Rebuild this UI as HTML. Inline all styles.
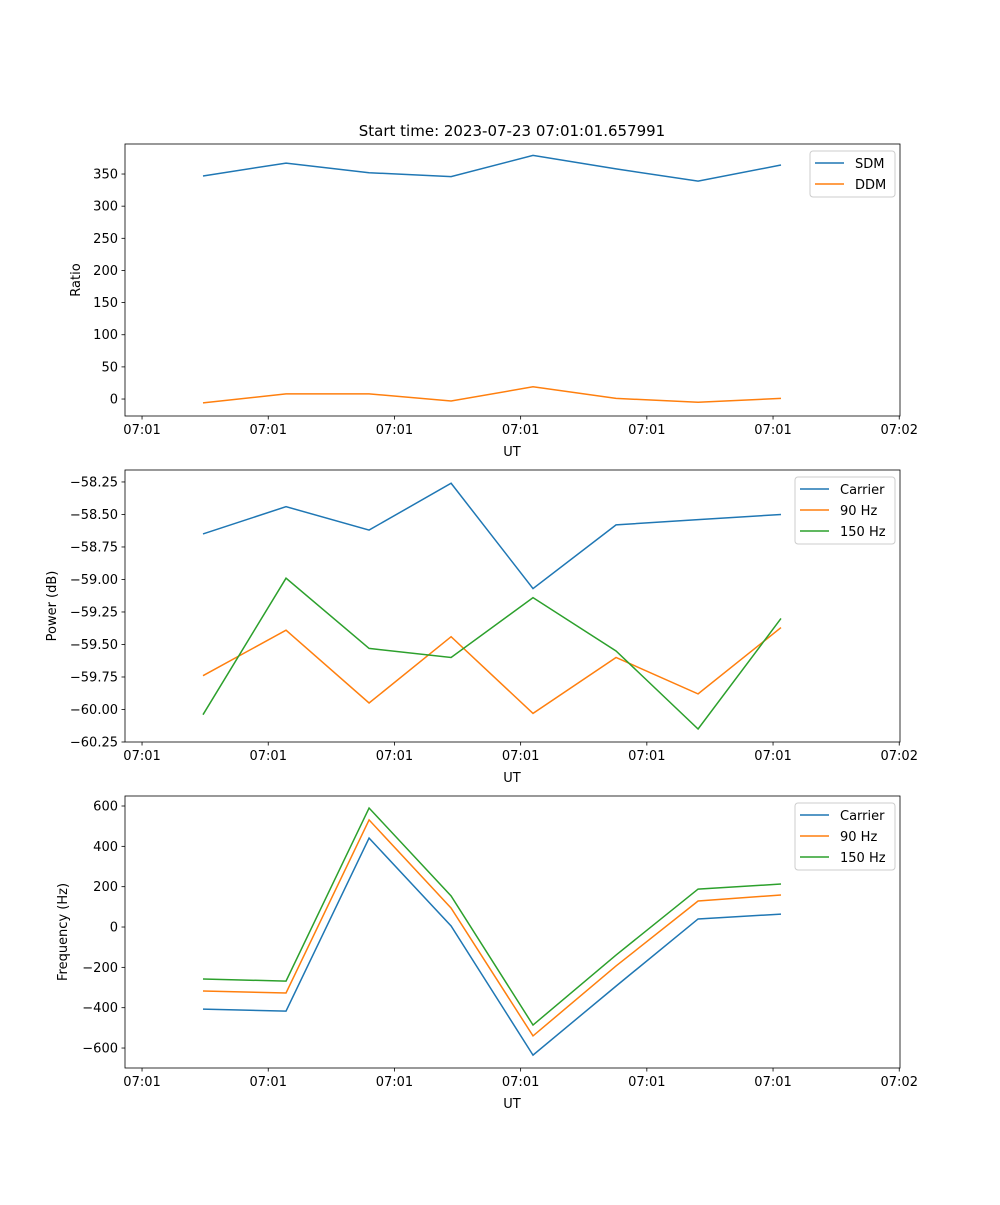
<!DOCTYPE html>
<html><head><meta charset="utf-8"><style>
body{margin:0;background:#fff;}
svg text{font-family:"DejaVu Sans","Liberation Sans",sans-serif;font-size:13px;fill:#000;}
</style></head><body>
<svg id="fig" width="1000" height="1200" xmlns="http://www.w3.org/2000/svg">
<text x="512" y="136" text-anchor="middle" style="font-size:15px">Start time: 2023-07-23 07:01:01.657991</text>
</svg>
<script>
const times = [4.83, 11.41, 17.99, 24.49, 30.98, 37.56, 44.06, 50.63];
const xTicks = [0, 10, 20, 30, 40, 50, 60];
const xTickLabels = ["07:01","07:01","07:01","07:01","07:01","07:01","07:02"];
const sdm = [347, 367, 352, 346, 379, 358, 339, 364];
const ddm = [-6, 8, 8, -3, 19, 1, -5, 1];
const pwrCarrier = [-58.65, -58.44, -58.62, -58.26, -59.07, -58.58, -58.54, -58.50];
const pwr90 = [-59.74, -59.39, -59.95, -59.44, -60.03, -59.60, -59.88, -59.37];
const pwr150 = [-60.04, -58.99, -59.53, -59.60, -59.14, -59.55, -60.15, -59.30];
const frqCarrier = [-407, -417, 441, 5, -635, -293, 40, 64];
const frq90 = [-317, -327, 531, 94, -540, -193, 129, 159];
const frq150 = [-258, -268, 590, 154, -486, -139, 188, 213];
const ticks1 = [0, 50, 100, 150, 200, 250, 300, 350];
const ticks2 = [-60.25, -60.0, -59.75, -59.5, -59.25, -59.0, -58.75, -58.5, -58.25];
const ticks3 = [-600, -400, -200, 0, 200, 400, 600];

const NS = "http://www.w3.org/2000/svg";
const svg = document.getElementById('fig');
function el(tag, attrs, parent){const e=document.createElementNS(NS,tag);for(const k in attrs)e.setAttribute(k,attrs[k]);(parent||svg).appendChild(e);return e;}
const L=125,R=900,xmin=-1.35,xmax=60.06;
const xs=v=>L+(v-xmin)/(xmax-xmin)*(R-L);
function panel(name,top,bot,ymin,ymax,yticks,fmt,ylabel,series,legend){
  const g=el('g',{});
  
  
  const ys=v=>bot-(v-ymin)/(ymax-ymin)*(bot-top);
  series.forEach(s=>{
    const p=el('polyline',{points:s.vals.map((v,i)=>xs(times[i])+','+ys(v)).join(' '),fill:'none',stroke:s.color,'stroke-width':1.5},g);
    
    
  });
  const fr=el('rect',{x:L,y:top,width:R-L,height:bot-top,fill:'none',stroke:'#000','stroke-width':0.8},g);
  
  
  xTicks.forEach((t,i)=>{
    const x=xs(t);
    el('line',{x1:x,x2:x,y1:bot,y2:bot+3.5,stroke:'#000','stroke-width':0.8},g);
    const tx=el('text',{x:x,y:bot+18,'text-anchor':'middle'},g);tx.textContent=xTickLabels[i];
    
    
  });
  yticks.forEach(t=>{
    const y=ys(t);
    el('line',{x1:L-3.5,x2:L,y1:y,y2:y,stroke:'#000','stroke-width':0.8},g);
    const tx=el('text',{x:L-7,y:y+4.5,'text-anchor':'end'},g);tx.textContent=fmt(t);
    
    
  });
  const xl=el('text',{x:512,y:bot+40,'text-anchor':'middle'},g);xl.textContent='UT';
  
  
  const yl=el('text',{x:0,y:0,'text-anchor':'middle',transform:`translate(${legend.ylx},${(top+bot)/2}) rotate(-90)`},g);yl.textContent=ylabel;
  
  
  const lx=legend.x, ly=top+7, w=R-5-lx, h=series.length*21+4;
  const lb=el('rect',{x:lx,y:ly,width:w,height:h,rx:3,fill:'#fff',stroke:'#ccc','stroke-width':1},g);
  
  
  series.forEach((s,i)=>{
    const y=ly+12+i*21;
    el('line',{x1:lx+5,x2:lx+34,y1:y,y2:y,stroke:s.color,'stroke-width':1.5},g);
    const t=el('text',{x:lx+45,y:y+5},g);t.textContent=s.label;
    
    
  });
}
const dash=s=>s.replace('-','\u2212');
panel('ratio-panel',144,416,-26.4,396.7,ticks1,t=>dash(String(t)),'Ratio',
 [{name:'sdm-line',label:'SDM',vals:sdm,color:'#1f77b4'},{name:'ddm-line',label:'DDM',vals:ddm,color:'#ff7f0e'}],{x:810,ylx:80});
panel('power-panel',470,742,-60.25,-58.158,ticks2,t=>dash(t.toFixed(2)),'Power (dB)',
 [{name:'carrier-power-line',label:'Carrier',vals:pwrCarrier,color:'#1f77b4'},{name:'90hz-power-line',label:'90 Hz',vals:pwr90,color:'#ff7f0e'},{name:'150hz-power-line',label:'150 Hz',vals:pwr150,color:'#2ca02c'}],{x:795,ylx:56});
panel('frequency-panel',796,1068,-699,649.6,ticks3,t=>dash(String(t)),'Frequency (Hz)',
 [{name:'carrier-freq-line',label:'Carrier',vals:frqCarrier,color:'#1f77b4'},{name:'90hz-freq-line',label:'90 Hz',vals:frq90,color:'#ff7f0e'},{name:'150hz-freq-line',label:'150 Hz',vals:frq150,color:'#2ca02c'}],{x:795,ylx:67});
</script>
</body></html>
